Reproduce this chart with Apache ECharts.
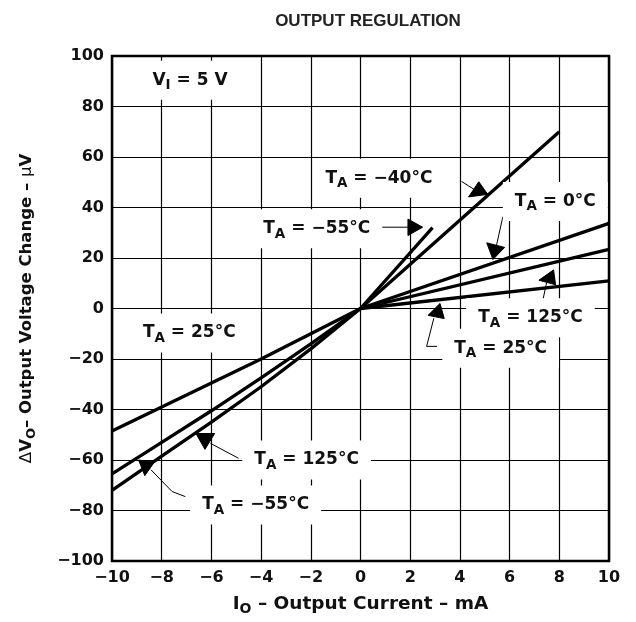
<!DOCTYPE html>
<html>
<head>
<meta charset="utf-8">
<script src="https://cdn.jsdelivr.net/npm/echarts@6/dist/echarts.min.js"></script>
<style>
html,body{margin:0;padding:0;background:#fff;}
#c{width:636px;height:622px;}
</style>
</head>
<body>
<div id="c"></div>
<script>
// ---- data (I_O in mA, ΔV_O in µV) ----
const xTicks = [-10, -8, -6, -4, -2, 0, 2, 4, 6, 8, 10];
const yTicks = [-100, -80, -60, -40, -20, 0, 20, 40, 60, 80, 100];
const curve25   = [[-10, -48.5], [-8, -39], [-6, -29.5], [-4, -20], [-2, -10], [0, 0], [10, 10.9]];
const curve125  = [[-10, -65.5], [-8, -53], [-6, -40.5], [-4, -27.5], [-2, -14], [0, 0], [10, 23.4]];
const curveM55  = [[-10, -72], [-8, -58.5], [-6, -45], [-4, -31], [-2, -16], [0, 0], [2.9, 32]];
const curveM40  = [[0, 0], [8, 70]];
const curve0    = [[0, 0], [10, 33.7]];

// annotation labels: text parts and anchor (data coords)
const labels = [
  { main: 'V', sub: 'I', rest: ' = 5 V',     at: [-6.86, 90.4] },
  { main: 'T', sub: 'A', rest: ' = −40°C',  at: [0.74, 51.6] },
  { main: 'T', sub: 'A', rest: ' = 0°C',     at: [7.84, 42.4] },
  { main: 'T', sub: 'A', rest: ' = −55°C',  at: [-1.76, 31.6] },
  { main: 'T', sub: 'A', rest: ' = 125°C',   at: [6.84, -3.7] },
  { main: 'T', sub: 'A', rest: ' = 25°C',    at: [5.64, -15.7] },
  { main: 'T', sub: 'A', rest: ' = 25°C',    at: [-6.89, -9.7] },
  { main: 'T', sub: 'A', rest: ' = 125°C',   at: [-2.17, -60] },
  { main: 'T', sub: 'A', rest: ' = −55°C',  at: [-4.22, -77.8] }
];
// leader lines (data coords)
const leaders = [
  [[4.07, 50.3], [4.6, 47]],
  [[5.73, 36.4], [5.47, 24.9]],
  [[0.5, 32.2], [1.91, 32.2]],
  [[7.29, 1.05], [7.49, 10.3]],
  [[3.08, -15], [2.66, -15], [2.95, -3.9]],
  [[-4.91, -59.3], [-6.04, -53.4]],
  [[-7.05, -74.5], [-7.58, -72.5], [-8.43, -63.9]]
];
// arrow heads (data coords)
const heads = [
  [[4.35, 44.2], [4.76, 50.2], [5.12, 45.2]],
  [[5.08, 26.0], [5.8, 24.2], [5.33, 19.4]],
  [[1.91, 35.4], [1.91, 28.9], [2.5, 32.2]],
  [[7.77, 15.3], [7.18, 11.2], [7.85, 9.4]],
  [[3.2, 2.0], [2.72, -2.7], [3.37, -4.0]],
  [[-6.62, -49.5], [-5.87, -49.5], [-6.26, -55.8]],
  [[-8.93, -60.0], [-8.3, -60.9], [-8.68, -66.2]]
];

const FONT = 'DejaVu Sans';
const fmt = v => (v < 0 ? '−' + (-v) : String(v));
const chart = echarts.init(document.getElementById('c'), null, { renderer: 'canvas' });

const lineSeries = (name, data) => ({
  name, type: 'line', data, symbol: 'none', smooth: false,
  lineStyle: { color: '#000', width: 3.3 }, z: 5, silent: true
});

chart.setOption({
  animation: false,
  backgroundColor: '#fff',
  title: {
    text: 'OUTPUT REGULATION', left: 363, top: 8, textAlign: 'center',
    textStyle: { fontFamily: 'Liberation Sans', fontWeight: 'bold', fontSize: 17, color: '#222' }
  },
  grid: { left: 112, right: 27, top: 56, bottom: 61, show: true, borderColor: '#000', borderWidth: 2.5, backgroundColor: 'transparent' },
  xAxis: {
    type: 'value', min: xTicks[0], max: xTicks[xTicks.length - 1], interval: 2,
    axisLine: { show: false }, axisTick: { show: false },
    splitLine: { show: true, lineStyle: { color: '#000', width: 1.2 } },
    axisLabel: { formatter: fmt, fontFamily: FONT, fontWeight: 'bold', fontSize: 16, color: '#111', margin: 9 },
    name: '{n|I}{s|O}{n| – Output Current – mA}', nameLocation: 'middle', nameGap: 32,
    nameTextStyle: {
      rich: {
        n: { fontFamily: FONT, fontWeight: 'bold', fontSize: 18.5, color: '#111' },
        s: { fontFamily: FONT, fontWeight: 'bold', fontSize: 14, color: '#111', padding: [9, 0, 0, 0] }
      }
    }
  },
  yAxis: {
    type: 'value', min: yTicks[0], max: yTicks[yTicks.length - 1], interval: 20,
    axisLine: { show: false }, axisTick: { show: false },
    splitLine: { show: true, lineStyle: { color: '#000', width: 1.2 } },
    axisLabel: { formatter: fmt, fontFamily: FONT, fontWeight: 'bold', fontSize: 16, color: '#111', margin: 8 },
    name: '{g|Δ}{n|V}{s|O}{n|– Output Voltage Change – }{g|µ}{n|V}', nameLocation: 'middle', nameGap: 74,
    nameTextStyle: {
      rich: {
        n: { fontFamily: FONT, fontWeight: 'bold', fontSize: 16.5, color: '#111' },
        g: { fontFamily: FONT, fontWeight: 'normal', fontSize: 16.5, color: '#111' },
        s: { fontFamily: FONT, fontWeight: 'bold', fontSize: 13, color: '#111', padding: [9, 0, 0, 0] }
      }
    }
  },
  series: [
    lineSeries('25', curve25),
    lineSeries('125', curve125),
    lineSeries('-55', curveM55),
    lineSeries('-40', curveM40),
    lineSeries('0', curve0)
  ]
});

const px = p => chart.convertToPixel({ gridIndex: 0 }, p);
const graphics = [];
leaders.forEach(pts => graphics.push({
  type: 'polyline', z: 50, silent: true,
  shape: { points: pts.map(px) }, style: { stroke: '#000', lineWidth: 1, fill: null }
}));
labels.forEach(l => {
  const [x, y] = px(l.at);
  graphics.push({
    type: 'text', z: 60, silent: true, x, y,
    style: {
      text: '{n|' + l.main + '}{s|' + l.sub + '}{n|' + l.rest + '}',
      align: 'center', verticalAlign: 'middle',
      backgroundColor: '#fff', padding: [7, 12, 7, 12],
      rich: {
        n: { fontFamily: FONT, fontWeight: 'bold', fontSize: 17, fill: '#111' },
        s: { fontFamily: FONT, fontWeight: 'bold', fontSize: 13.5, fill: '#111', padding: [11, 0, 0, 0] }
      }
    }
  });
});
heads.forEach(pts => graphics.push({
  type: 'polygon', z: 70, silent: true,
  shape: { points: pts.map(px) }, style: { fill: '#000', stroke: '#000', lineWidth: 1 }
}));
chart.setOption({ graphic: graphics });
</script>
</body>
</html>
